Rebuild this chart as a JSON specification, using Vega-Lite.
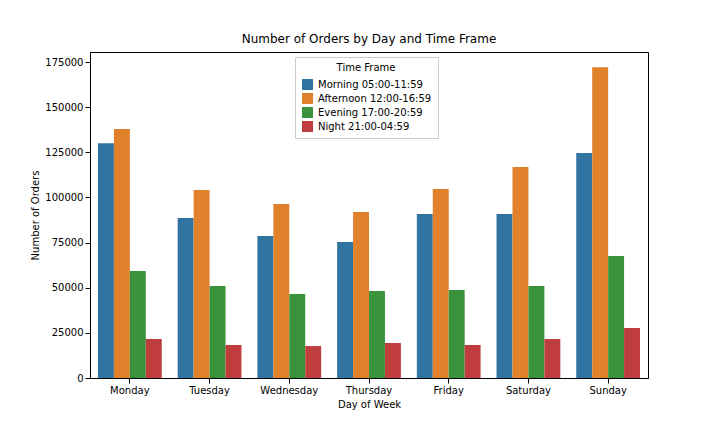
{
  "$schema": "https://vega.github.io/schema/vega-lite/v6.json",
  "width": 558,
  "height": 326,
  "autosize": {"type": "none"},
  "padding": {"left": 90, "top": 52, "right": 72, "bottom": 54},
  "title": {"text": "Number of Orders by Day and Time Frame", "fontSize": 12, "fontWeight": "normal", "font": "DejaVu Sans", "offset": 6},
  "data": {
    "values": [
      {"day": "Monday", "tf": "Morning 05:00-11:59", "orders": 130000},
      {"day": "Monday", "tf": "Afternoon 12:00-16:59", "orders": 137900},
      {"day": "Monday", "tf": "Evening 17:00-20:59", "orders": 59300},
      {"day": "Monday", "tf": "Night 21:00-04:59", "orders": 21600},
      {"day": "Tuesday", "tf": "Morning 05:00-11:59", "orders": 88600},
      {"day": "Tuesday", "tf": "Afternoon 12:00-16:59", "orders": 104100},
      {"day": "Tuesday", "tf": "Evening 17:00-20:59", "orders": 51000},
      {"day": "Tuesday", "tf": "Night 21:00-04:59", "orders": 18300},
      {"day": "Wednesday", "tf": "Morning 05:00-11:59", "orders": 78600},
      {"day": "Wednesday", "tf": "Afternoon 12:00-16:59", "orders": 96400},
      {"day": "Wednesday", "tf": "Evening 17:00-20:59", "orders": 46500},
      {"day": "Wednesday", "tf": "Night 21:00-04:59", "orders": 17700},
      {"day": "Thursday", "tf": "Morning 05:00-11:59", "orders": 75300},
      {"day": "Thursday", "tf": "Afternoon 12:00-16:59", "orders": 91900},
      {"day": "Thursday", "tf": "Evening 17:00-20:59", "orders": 48200},
      {"day": "Thursday", "tf": "Night 21:00-04:59", "orders": 19400},
      {"day": "Friday", "tf": "Morning 05:00-11:59", "orders": 90800},
      {"day": "Friday", "tf": "Afternoon 12:00-16:59", "orders": 104700},
      {"day": "Friday", "tf": "Evening 17:00-20:59", "orders": 48700},
      {"day": "Friday", "tf": "Night 21:00-04:59", "orders": 18300},
      {"day": "Saturday", "tf": "Morning 05:00-11:59", "orders": 90800},
      {"day": "Saturday", "tf": "Afternoon 12:00-16:59", "orders": 116900},
      {"day": "Saturday", "tf": "Evening 17:00-20:59", "orders": 51000},
      {"day": "Saturday", "tf": "Night 21:00-04:59", "orders": 21600},
      {"day": "Sunday", "tf": "Morning 05:00-11:59", "orders": 124600},
      {"day": "Sunday", "tf": "Afternoon 12:00-16:59", "orders": 172200},
      {"day": "Sunday", "tf": "Evening 17:00-20:59", "orders": 67600},
      {"day": "Sunday", "tf": "Night 21:00-04:59", "orders": 27700}
    ]
  },
  "mark": {"type": "bar"},
  "encoding": {
    "x": {
      "field": "day", "type": "nominal", "sort": null, "title": "Day of Week",
      "scale": {"paddingInner": 0.2, "paddingOuter": 0.1},
      "axis": {"labelAngle": 0, "grid": false, "titleFontWeight": "normal", "titleFontSize": 10, "labelFontSize": 10, "titlePadding": 4}
    },
    "xOffset": {"field": "tf", "sort": null},
    "y": {
      "field": "orders", "type": "quantitative", "title": "Number of Orders",
      "scale": {"domain": [0, 180600], "nice": false},
      "axis": {"values": [0, 25000, 50000, 75000, 100000, 125000, 150000, 175000], "format": "d", "grid": false, "titleFontWeight": "normal", "titleFontSize": 10, "labelFontSize": 10}
    },
    "color": {
      "field": "tf", "type": "nominal", "sort": null, "title": "Time Frame",
      "scale": {"domain": ["Morning 05:00-11:59", "Afternoon 12:00-16:59", "Evening 17:00-20:59", "Night 21:00-04:59"], "range": ["#3274a1", "#e1812c", "#3a923a", "#c03d3e"]},
      "legend": {"orient": "none", "legendX": 205, "legendY": 5, "fillColor": "white", "strokeColor": "#cccccc", "padding": 6, "titleFontWeight": "normal", "titleFontSize": 10, "labelFontSize": 10, "titleAnchor": "middle", "symbolType": "square", "symbolSize": 120}
    }
  },
  "config": {
    "font": "DejaVu Sans",
    "view": {"stroke": "black"},
    "axis": {"domainColor": "black", "tickColor": "black", "labelColor": "black", "titleColor": "black"}
  }
}
